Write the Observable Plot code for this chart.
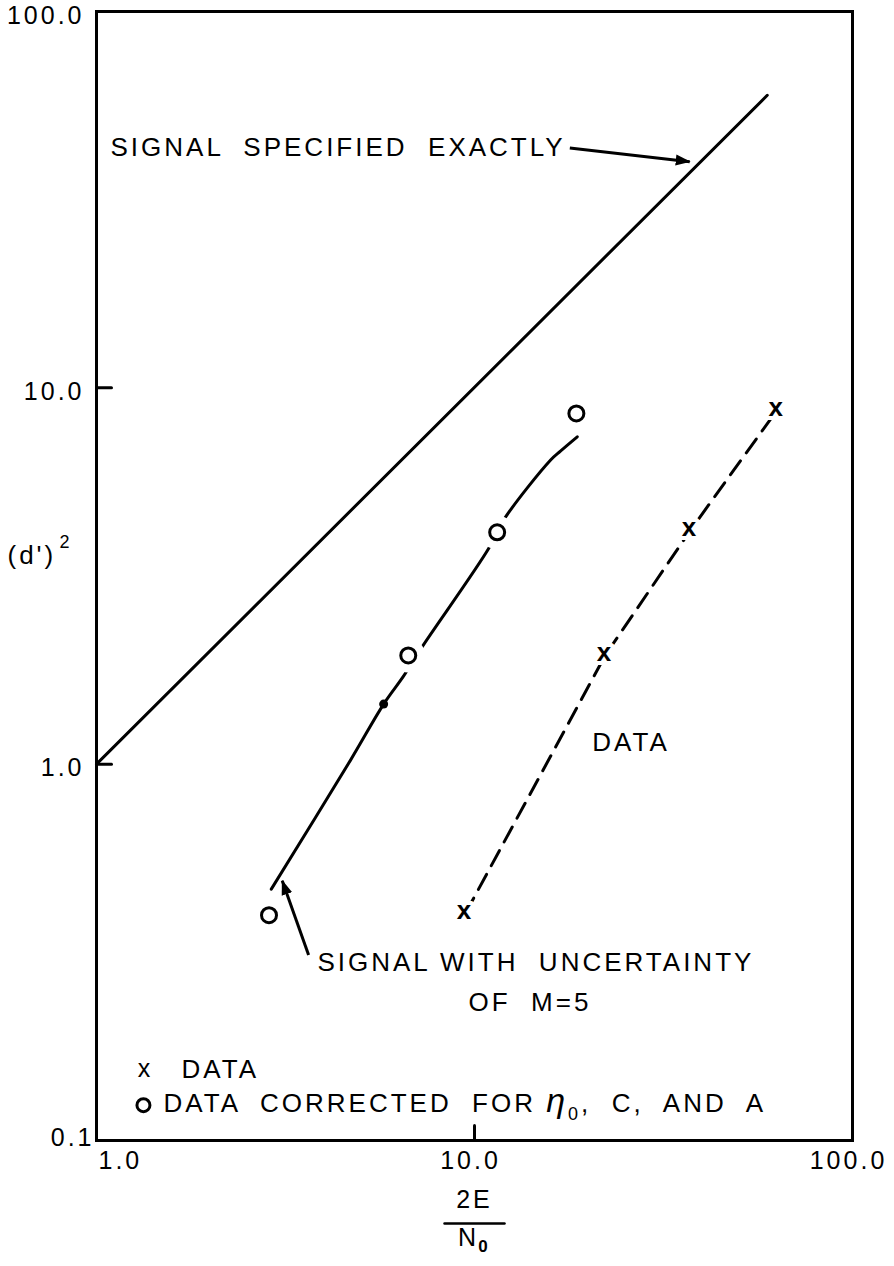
<!DOCTYPE html>
<html><head><meta charset="utf-8">
<script src="https://cdn.jsdelivr.net/npm/d3@7"></script>
<script src="https://cdn.jsdelivr.net/npm/@observablehq/plot@0.6"></script>
<style>body{margin:0;background:#fff}</style>
</head><body><div id="chart"></div>
<script>
// ---- axes ----
const xTicks = [1, 10, 100];
const yTicks = [0.1, 1, 10, 100];
const xInnerTicks = [10];
const yInnerTicks = [1, 10];

// ---- signal specified exactly ----
const exactX = [1, 59.5];
const exactY = [1, 59.9];

// ---- signal with uncertainty of M=5 (curve) ----
const uncertX = [2.90, 4.70, 5.75, 6.49, 7.27, 10.9, 11.93, 15.9, 16.88, 18.7];
const uncertY = [0.4655, 1.025, 1.444, 1.713, 2.05, 3.74, 4.45, 6.43, 6.79, 7.41];
const dotX = [5.75];
const dotY = [1.444];

// ---- data (x) ----
const dataX = [9.47, 22.2, 37.3, 63.2];
const dataY = [0.402, 1.95, 4.19, 8.73];

// ---- data corrected (o) ----
const corrX = [2.86, 6.68, 11.48, 18.6];
const corrY = [0.397, 1.945, 4.13, 8.55];

// ---- annotations (data-space anchors) ----
const labelText = ["SIGNAL  SPECIFIED  EXACTLY", "DATA", "SIGNAL WITH  UNCERTAINTY", "OF  M=5", "DATA", "DATA  CORRECTED  FOR η0,  C,  AND  A"];
const labelX = [1.089, 20.5, 3.84, 9.64, 1.679, 1.504];
const labelY = [43.4, 1.144, 0.296, 0.2317, 0.1547, 0.1249];
const legendX = [1.348];
const legendY = [0.1528];
const legendOX = [1.331];
const legendOY = [0.1241];
const arrowX1 = [17.87, 3.64];
const arrowY1 = [43.4, 0.311];
const arrowX2 = [37.1, 3.10];
const arrowY2 = [39.9, 0.490];

const exact = exactX.map((x, i) => ({x, y: exactY[i]}));
const uncert = uncertX.map((x, i) => ({x, y: uncertY[i]}));
const dot = dotX.map((x, i) => ({x, y: dotY[i]}));
const data = dataX.map((x, i) => ({x, y: dataY[i]}));
const corr = corrX.map((x, i) => ({x, y: corrY[i]}));
const labels = labelText.map((t, i) => ({t, x: labelX[i], y: labelY[i]}));
const arrows = arrowX1.map((x1, i) => ({x1, y1: arrowY1[i], x2: arrowX2[i], y2: arrowY2[i]}));

const fmt = d => d.toFixed(1);
const lineShape = {draw(ctx, l) { ctx.moveTo(0, 0); ctx.lineTo(0, -l); }};
const FONT = "Liberation Sans, Arial, sans-serif";
const SW = 3;

const svg = Plot.plot({
  width: 894,
  height: 1266,
  marginLeft: 96,
  marginRight: 42,
  marginTop: 11,
  marginBottom: 126,
  style: {fontFamily: FONT, letterSpacing: "3px", background: "white", color: "black"},
  x: {type: "log", domain: [1, 100], axis: null},
  y: {type: "log", domain: [0.1, 100], axis: null},
  marks: [
    Plot.frame({stroke: "black", strokeWidth: 3}),
    // inward ticks
    Plot.vector(yInnerTicks, {y: d => d, frameAnchor: "left", length: 15, rotate: 90, anchor: "start", shape: lineShape, stroke: "black", strokeWidth: SW}),
    Plot.vector(xInnerTicks, {x: d => d, frameAnchor: "bottom", length: 15, rotate: 0, anchor: "start", shape: lineShape, stroke: "black", strokeWidth: SW}),
    // tick labels
    Plot.text(yTicks.filter(d => d > 0.1), {y: d => d, text: fmt, frameAnchor: "left", textAnchor: "end", dx: -12, dy: 4, fontSize: 25}),
    Plot.text(yTicks.filter(d => d === 0.1), {y: d => d, text: fmt, frameAnchor: "left", textAnchor: "end", dx: -2, dy: -3, fontSize: 25}),
    Plot.text(xTicks.filter(d => d === 1), {x: d => d, text: fmt, frameAnchor: "bottom", textAnchor: "start", dx: 2, dy: 28, fontSize: 25}),
    Plot.text(xTicks.filter(d => d > 1), {x: d => d, text: fmt, frameAnchor: "bottom", textAnchor: "middle", dx: -4, dy: 28, fontSize: 25}),
    // axis titles
    Plot.text(["(d')"], {frameAnchor: "left", y: [3.59], textAnchor: "start", dx: -89, fontSize: 26}),
    Plot.text(["2"], {frameAnchor: "left", y: [3.59], textAnchor: "start", dx: -37, dy: -13, fontSize: 18}),
    Plot.text(["2E"], {x: [10], frameAnchor: "bottom", dy: 67, fontSize: 25}),
    Plot.vector([10], {x: d => d, frameAnchor: "bottom", dy: 83, length: 60, rotate: 90, anchor: "middle", shape: lineShape, stroke: "black", strokeWidth: 2.5}),
    Plot.text(["N"], {x: [10], frameAnchor: "bottom", dy: 105, dx: -6, fontSize: 25}),
    Plot.text(["0"], {x: [10], frameAnchor: "bottom", dy: 111, dx: 10, fontSize: 17, fontWeight: "bold"}),
    // curves
    Plot.line(exact, {x: "x", y: "y", stroke: "black", strokeWidth: SW}),
    Plot.line(uncert, {x: "x", y: "y", stroke: "black", strokeWidth: SW, curve: "catmull-rom"}),
    Plot.line(data, {x: "x", y: "y", stroke: "black", strokeWidth: SW, strokeDasharray: "17,10"}),
    // white gaps around circles
    Plot.dot(corr, {x: "x", y: "y", r: 17, fill: "white", stroke: null}),
    Plot.dot(corr, {x: "x", y: "y", r: 7.5, fill: "white", stroke: "black", strokeWidth: SW}),
    Plot.dot(dot, {x: "x", y: "y", r: 4.5, fill: "black"}),
    Plot.text(data, {x: "x", y: "y", text: () => "x", fontSize: 26, fontWeight: "bold", fill: "black", stroke: "white", strokeWidth: 8, dy: -2}),
    // arrows
    Plot.link(arrows, {x1: "x1", y1: "y1", x2: "x2", y2: "y2", stroke: "black", strokeWidth: SW, markerEnd: "arrow"}),
    // annotation labels
    Plot.text(labels, {x: "x", y: "y", text: "t", textAnchor: "start", fontSize: 26, fill: "black"}),
    Plot.text(legendX.map((x, i) => ({x, y: legendY[i]})), {x: "x", y: "y", text: () => "x", fontSize: 25, dy: -2}),
    Plot.dot(legendOX.map((x, i) => ({x, y: legendOY[i]})), {x: "x", y: "y", r: 6.5, stroke: "black", strokeWidth: SW})
  ]
});

// filled arrowheads
svg.querySelectorAll("marker").forEach(m => {
  m.setAttribute("viewBox", "-14 -6 15 12");
  m.setAttribute("markerUnits", "userSpaceOnUse");
  m.setAttribute("markerWidth", "15");
  m.setAttribute("markerHeight", "12");
  m.setAttribute("fill", "black");
  m.setAttribute("stroke", "none");
  const p = m.querySelector("path");
  if (p) p.setAttribute("d", "M-14,-5.5L1,0L-14,5.5Z");
});

// eta with subscript 0
svg.querySelectorAll("text").forEach(t => {
  if (t.textContent.includes("η0")) {
    const ns = "http://www.w3.org/2000/svg";
    const parts = t.textContent.split("η0");
    t.textContent = "";
    const a = document.createElementNS(ns, "tspan"); a.textContent = parts[0]; t.appendChild(a);
    const e = document.createElementNS(ns, "tspan"); e.textContent = "η"; e.setAttribute("font-size", "34"); e.setAttribute("font-style", "italic"); t.appendChild(e);
    const z = document.createElementNS(ns, "tspan"); z.textContent = "0"; z.setAttribute("font-size", "18"); z.setAttribute("dy", "8"); t.appendChild(z);
    const b = document.createElementNS(ns, "tspan"); b.textContent = parts[1]; b.setAttribute("dy", "-8"); t.appendChild(b);
  }
});

document.getElementById("chart").appendChild(svg);
</script>
</body></html>
